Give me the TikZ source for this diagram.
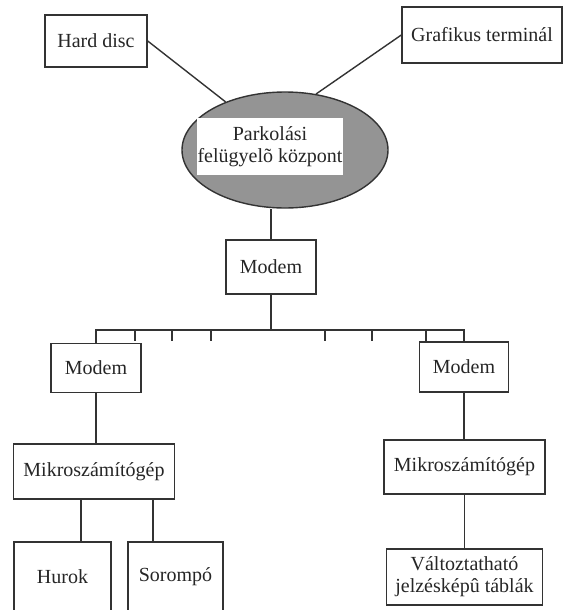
\documentclass[tikz,border=0pt]{standalone}
\usepackage{fontspec}
\setmainfont{Liberation Serif}
\usetikzlibrary{shapes.geometric}
\begin{document}
\begin{tikzpicture}[x=1pt,y=-1pt,
  wire/.style={draw=black!80, line width=1.4pt},
  unit/.style={draw=black!80, line width=1.4pt, fill=white, inner sep=0pt,
    align=center, text=black!85, font=\fontsize{20}{22}\selectfont},
]
\useasboundingbox (0,0) rectangle (567,610);
\clip (0,0) rectangle (567,610);

% central station
\node[ellipse, draw=black!80, line width=1.4pt, fill=black!42,
      minimum width=206, minimum height=116, inner sep=0pt] (ell) at (285,150) {};
\node[fill=white, minimum width=146, minimum height=57, inner sep=0pt,
      align=center, text=black!85, font=\fontsize{20}{22}\selectfont]
      (lbl) at (270,146.5) {Parkolási\\felügyelõ központ};

% peripherals of the central station
\node[unit, minimum width=102, minimum height=52] (hd) at (96,41) {Hard disc};
\node[unit, minimum width=160, minimum height=56] (gt) at (482,35) {Grafikus terminál};
\draw[wire] (hd.east) -- (ell.141);
\draw[wire] (gt.west) -- (ell.61);

% central modem and line bus
\node[unit, minimum width=90, minimum height=54] (m0) at (271,267) {Modem};
\draw[wire] (m0.north) -- (m0.north |- ell.south);

\node[unit, minimum width=90, minimum height=49] (m1) at (96,368) {Modem};
\node[unit, minimum width=89, minimum height=50] (m2) at (464,367) {Modem};
\coordinate (busL) at (96,330);
\coordinate (busR) at (464,330);
\draw[wire] (m1.north) -- (busL) -- (busR) -- (m2.north);
\draw[wire] (m0.south) -- (m0.south |- busL);
\foreach \tx in {135,172,211,325,372,426}
  \draw[wire] (\tx,330) -- (\tx,341);

% local stations
\node[unit, minimum width=161, minimum height=55] (k1) at (94,471.5) {Mikroszámítógép};
\node[unit, minimum width=161, minimum height=54] (k2) at (464.5,467) {Mikroszámítógép};
\draw[wire] (m1.south) -- (m1.south |- k1.north);
\draw[wire] (m2.south) -- (m2.south |- k2.north);

% field devices
\node[unit, minimum width=97, minimum height=70] (hu) at (62.5,577) {Hurok};
\node[unit, minimum width=95, minimum height=70] (so) at (175.5,577) {Sorompó};
\node[unit, minimum width=156, minimum height=56] (vt) at (464.5,577)
  {Változtatható\\jelzésképû táblák};
\draw[wire] (81,0 |- k1.south) -- (81,0 |- hu.north);
\draw[wire] (153,0 |- k1.south) -- (153,0 |- so.north);
\draw[wire] (k2.south) -- (k2.south |- vt.north);
\end{tikzpicture}
\end{document}
